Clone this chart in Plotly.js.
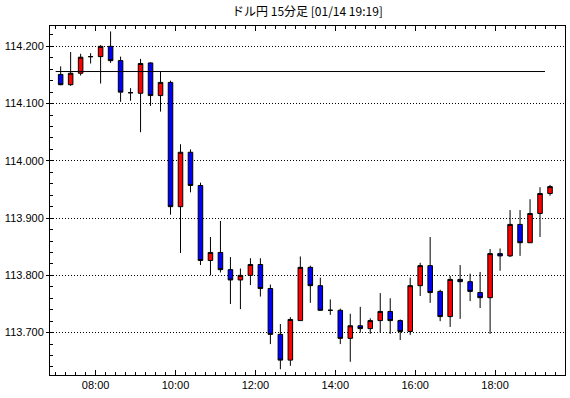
<!DOCTYPE html>
<html><head><meta charset="utf-8">
<script src="https://cdn.plot.ly/plotly-3.0.1.min.js"></script>
<style>html,body{margin:0;padding:0;background:#fff}#chart{width:570px;height:398px}</style>
</head><body><div id="chart"></div>
<script>
const day = '2022-01-14';
const times = ['07:00','07:15','07:30','07:45','08:00','08:15','08:30','08:45','09:00','09:15',
  '09:30','09:45','10:00','10:15','10:30','10:45','11:00','11:15','11:30','11:45',
  '12:00','12:15','12:30','12:45','13:00','13:15','13:30','13:45','14:00','14:15',
  '14:30','14:45','15:00','15:15','15:30','15:45','16:00','16:15','16:30','16:45',
  '17:00','17:15','17:30','17:45','18:00','18:15','18:30','18:45','19:00','19:15'];
const open = [114.151,114.133,114.153,114.182,114.182,114.200,114.175,114.119,114.118,114.171,
  114.114,114.137,113.920,114.015,113.957,113.826,113.840,113.810,113.792,113.800,
  113.819,113.777,113.697,113.652,113.721,113.814,113.782,113.739,113.739,113.690,
  113.712,113.707,113.721,113.737,113.721,113.702,113.782,113.817,113.772,113.728,
  113.793,113.789,113.770,113.761,113.838,113.834,113.889,113.857,113.908,113.943];
const high = [114.165,114.190,114.187,114.188,114.202,114.226,114.182,114.127,114.178,114.172,
  114.156,114.140,114.029,114.020,113.962,113.867,113.895,113.832,113.812,113.830,
  113.830,113.784,113.715,113.727,113.833,113.817,113.796,113.758,113.742,113.733,
  113.745,113.725,113.769,113.760,113.723,113.796,113.822,113.867,113.775,113.799,
  113.818,113.803,113.806,113.846,113.847,113.914,113.914,113.933,113.954,113.958];
const low = [114.132,114.131,114.149,114.170,114.135,114.171,114.103,114.105,114.050,114.096,
  114.086,113.906,113.839,113.945,113.818,113.800,113.805,113.750,113.741,113.783,
  113.763,113.680,113.636,113.642,113.721,113.752,113.738,113.731,113.680,113.649,
  113.700,113.698,113.700,113.698,113.687,113.696,113.764,113.752,113.720,113.710,
  113.724,113.755,113.743,113.698,113.808,113.832,113.834,113.857,113.867,113.939];
const close = [114.133,114.153,114.181,114.182,114.200,114.175,114.120,114.119,114.170,114.114,
  114.137,113.920,114.015,113.957,113.826,113.840,113.810,113.792,113.800,113.819,
  113.777,113.697,113.652,113.723,113.814,113.782,113.739,113.739,113.690,113.712,
  113.707,113.721,113.737,113.721,113.702,113.782,113.817,113.770,113.728,113.793,
  113.789,113.772,113.761,113.838,113.834,113.889,113.857,113.908,113.943,113.955];
const refLevel = 114.156;
const yTicks = [113.7, 113.8, 113.9, 114.0, 114.1, 114.2];
const title = 'ドル円 15分足 [01/14 19:19]';

function toDate(t, addMin) {
  const [h, m] = t.split(':').map(Number);
  const d = new Date(Date.UTC(2022, 0, 14, h, m, 0) + (addMin || 0) * 60000);
  return d.toISOString().replace('T', ' ').slice(0, 19);
}
const xCenters = times.map(t => toDate(t, 7.5));

const trace = {
  type: 'candlestick',
  x: xCenters, open: open, high: high, low: low, close: close,
  increasing: {line: {color: '#000000', width: 1}, fillcolor: '#FF0000'},
  decreasing: {line: {color: '#000000', width: 1}, fillcolor: '#0000FF'},
  whiskerwidth: 0,
  hoverinfo: 'skip',
  showlegend: false
};

const font = {family: '"Liberation Sans", Arial, sans-serif', size: 11, color: '#000'};
const yRange = [113.626, 114.2355];
const layout = {
  width: 570, height: 398,
  margin: {l: 50, r: 5, t: 26, b: 23},
  paper_bgcolor: '#fff', plot_bgcolor: '#fff',
  font: font,
  showlegend: false,
  boxgap: 0.35,
  title: {text: title, x: 0.5, xref: 'paper', xanchor: 'center', y: 0.97, yanchor: 'middle',
          font: {family: '"Noto Sans CJK JP", sans-serif', size: 12, color: '#000'}},
  xaxis: {
    type: 'date',
    range: [toDate('06:51', 0.5), toDate('19:45', 0)],
    rangeslider: {visible: false},
    showgrid: false, zeroline: false,
    showline: true, linecolor: '#000', linewidth: 1, mirror: 'ticks',
    ticks: 'inside', ticklen: 5, tickcolor: '#000', tickwidth: 1,
    tick0: toDate('08:00', 0), dtick: 7200000, tickformat: '%H:%M',
    tickfont: font,
    minor: {ticks: 'inside', ticklen: 3, tickcolor: '#000', dtick: 900000, tick0: toDate('08:00', 0), showgrid: false}
  },
  yaxis: {
    range: yRange,
    showgrid: true, gridcolor: '#000', griddash: '1px,2px', gridwidth: 1,
    zeroline: false,
    showline: true, linecolor: '#000', linewidth: 1, mirror: true,
    ticks: 'outside', ticklen: 3, tickcolor: '#000',
    tickmode: 'array', tickvals: yTicks, ticktext: yTicks.map(v => v.toFixed(3)),
    tickfont: font,
    minor: {ticks: 'inside', ticklen: 3, tickcolor: '#000', dtick: 0.02, tick0: 113.7, showgrid: false}
  },
  yaxis2: {
    overlaying: 'y', side: 'right', range: yRange,
    showgrid: false, zeroline: false, showline: false,
    ticks: 'inside', ticklen: 4, tickcolor: '#000', showticklabels: false,
    tick0: 113.7, dtick: 0.02
  },
  shapes: [{
    type: 'line', xref: 'x', yref: 'y',
    x0: toDate(times[0], 0), x1: toDate(times[times.length - 1], 0),
    y0: refLevel, y1: refLevel,
    line: {color: '#000', width: 1}
  }]
};

Plotly.newPlot('chart', [trace], layout, {displayModeBar: false, staticPlot: true});
</script></body></html>
